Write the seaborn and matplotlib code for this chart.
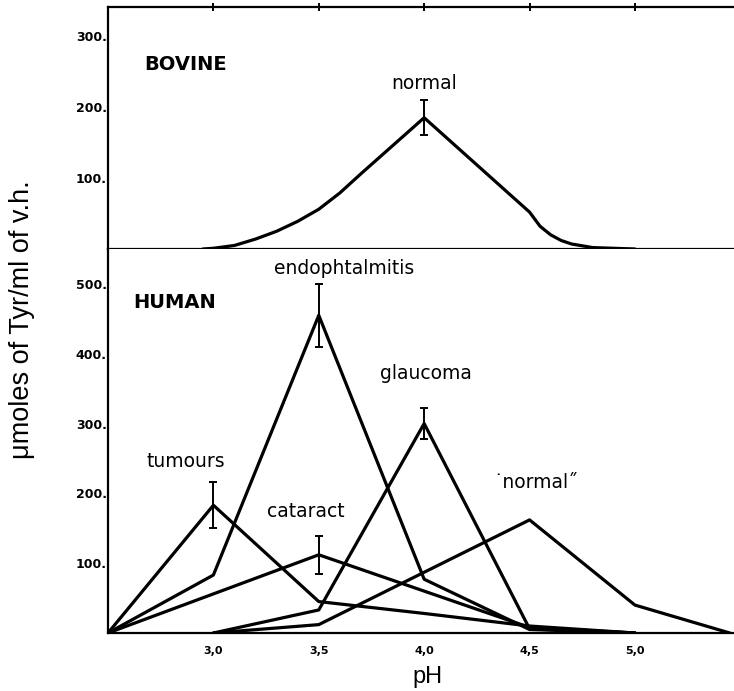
import matplotlib
matplotlib.use("Agg")
import matplotlib.pyplot as plt
import seaborn as sns
import numpy as np
import pandas as pd

# bovine curve (top panel)
ph_bovine = [2.95, 3.0, 3.1, 3.2, 3.3, 3.4, 3.5, 3.6, 3.7, 4.0,
             4.5, 4.55, 4.6, 4.65, 4.7, 4.8, 5.0]
bovine = [0, 1, 5, 14, 25, 39, 56, 79, 106, 185,
          52, 32, 20, 12, 7, 2, 0]
bovine_err_ph = 4.0
bovine_err = (185, 25)

# human curves (bottom panel)
ph_human = [2.5, 3.0, 3.5, 4.0, 4.5, 5.0, 5.45]
tumours = [0, 183, 45, 28, 10, 0, None]
endophtalmitis = [0, 83, 455, 77, 5, 0, None]
cataract = [0, 56, 112, 60, 8, 0, None]
glaucoma = [None, 0, 33, 300, 6, 0, None]
normal_h = [None, 0, 12, 87, 162, 40, 0]

# peaks with error bars: (pH, value, error)
human_err = [(3.0, 183, 33), (3.5, 455, 45), (3.5, 112, 27), (4.0, 300, 22)]

series = {"tumours": tumours, "endophtalmitis": endophtalmitis,
          "cataract": cataract, "glaucoma": glaucoma, "normal": normal_h}
rows = []
for name, vals in series.items():
    for x, v in zip(ph_human, vals):
        if v is not None:
            rows.append({"pH": x, "value": v, "group": name})
human = pd.DataFrame(rows)
bov = pd.DataFrame({"pH": ph_bovine, "value": bovine})

sns.set_style("white", {"text.color": "black", "xtick.color": "black",
                        "ytick.color": "black", "axes.labelcolor": "black"})
plt.rcParams["font.family"] = ["DejaVu Sans"]

fig = plt.figure(figsize=(7.34, 6.91), dpi=100)
left, right = 108 / 734, 1.0
ax1 = fig.add_axes([left, 1 - 249 / 691, right - left, (249 - 7) / 691])
ax2 = fig.add_axes([left, 1 - 633 / 691, right - left, (633 - 249) / 691])

lw = 2.3
sns.lineplot(data=bov, x="pH", y="value", ax=ax1, color="black", lw=lw,
             estimator=None, sort=False)
ax1.errorbar(bovine_err_ph, bovine_err[0], yerr=bovine_err[1], fmt="none",
             ecolor="black", elinewidth=1.4, capsize=3, capthick=1.4)

for name in series:
    sub = human[human["group"] == name]
    sns.lineplot(data=sub, x="pH", y="value", ax=ax2, color="black", lw=lw,
                 estimator=None, sort=False)
for x, v, e in human_err:
    ax2.errorbar(x, v, yerr=e, fmt="none", ecolor="black", elinewidth=1.4,
                 capsize=3, capthick=1.4)

xt = [3.0, 3.5, 4.0, 4.5, 5.0]
xt_labels = ["3,0", "3,5", "4,0", "4,5", "5,0"]
for ax in (ax1, ax2):
    ax.set_xlim(2.5, 5.47)
    ax.set_xticks(xt)
    ax.set_xlabel("")
    ax.set_ylabel("")
    ax.spines["right"].set_visible(False)
    for s in ("left", "bottom", "top"):
        ax.spines[s].set_linewidth(1.6)
        ax.spines[s].set_color("black")
    ax.tick_params(axis="x", direction="inout", length=6, width=1.4,
                   labelsize=8, pad=6)
    ax.tick_params(axis="y", length=0, pad=1, labelsize=9)

ax1.set_ylim(0, 341)
ax1.set_yticks([100, 200, 300])
ax1.set_yticklabels(["100.", "200.", "300."], fontweight="bold")
ax1.tick_params(axis="x", top=True, labelbottom=False)

ax2.set_ylim(0, 550)
ax2.set_yticks([100, 200, 300, 400, 500])
ax2.set_yticklabels(["100.", "200.", "300.", "400.", "500."], fontweight="bold")
ax2.spines["top"].set_visible(False)
ax2.set_xticklabels(xt_labels, fontweight="bold")

# panel labels
fs = 13.5
ax1.text(2.67, 260, "BOVINE", fontsize=14, fontweight="bold", va="center")
ax1.text(4.0, 233, "normal", fontsize=fs, ha="center", va="center")

ax2.text(2.62, 473, "HUMAN", fontsize=14, fontweight="bold", va="center")
ax2.text(3.62, 522, "endophtalmitis", fontsize=fs, ha="center", va="center")
ax2.text(4.01, 372, "glaucoma", fontsize=fs, ha="center", va="center")
ax2.text(2.87, 245, "tumours", fontsize=fs, ha="center", va="center")
ax2.text(3.44, 174, "cataract", fontsize=fs, ha="center", va="center")
ax2.text(4.53, 215, "\u02d9normal\u02dd", fontsize=fs, ha="center", va="center")

fig.text(427 / 734, 1 - 677 / 691, "pH", fontsize=17, ha="center", va="center",
         family="Liberation Sans")
fig.text(22 / 734, 1 - 320 / 691, "\u03bcmoles of Tyr/ml of v.h.", fontsize=19.5,
         rotation=90, ha="center", va="center", family="Liberation Sans")

fig.savefig("out.png", dpi=100)
